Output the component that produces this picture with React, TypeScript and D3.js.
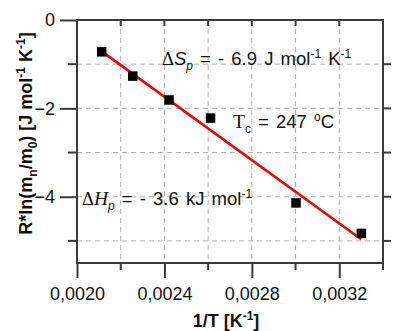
import { useEffect, useRef } from "react"
import * as d3 from "d3"

// measured points
const invT = [0.002113, 0.002255, 0.002421, 0.002611, 0.003002, 0.003301]
const lnRatio = [-0.72, -1.27, -1.81, -2.22, -4.14, -4.83]

// linear fit endpoints
const fitX = [0.002113, 0.0033]
const fitY = [-0.71, -4.96]

const xTicks = [0.002, 0.0024, 0.0028, 0.0032]
const xMinor = [0.0022, 0.0026, 0.003, 0.0034]
const yTicks = [0, -2, -4]
const yMinor = [-1, -3, -5]

const SANS = "'Liberation Sans', Arial, sans-serif"
const SERIF = "'Liberation Serif', 'Times New Roman', serif"
const AXIS = "#3a3a3a"

export default function App() {
  const svgRef = useRef<SVGSVGElement>(null)

  useEffect(() => {
    if (!svgRef.current) return
    const root = d3.select(svgRef.current)
    root.selectAll("*").remove()

    const margin = { top: 20, right: 15, bottom: 68, left: 77 }
    const width = 398 - margin.left - margin.right
    const height = 331 - margin.top - margin.bottom

    const x = d3.scaleLinear().domain([0.002, 0.0034]).range([0, width])
    const y = d3.scaleLinear().domain([-5.5, 0]).range([height, 0])

    const svg = root.append("g").attr("transform", `translate(${margin.left},${margin.top})`)

    // dashed grid
    const grid = svg.append("g").attr("stroke", "#b0b0b0").attr("stroke-width", 1).attr("stroke-dasharray", "5,4")
    grid
      .selectAll("line.v")
      .data([...xTicks, ...xMinor].filter((d) => d > 0.002 && d < 0.0034))
      .enter()
      .append("line")
      .attr("x1", (d) => x(d))
      .attr("x2", (d) => x(d))
      .attr("y1", 0)
      .attr("y2", height)
    grid
      .selectAll("line.h")
      .data([...yTicks, ...yMinor].filter((d) => d < 0))
      .enter()
      .append("line")
      .attr("x1", 0)
      .attr("x2", width)
      .attr("y1", (d) => y(d))
      .attr("y2", (d) => y(d))

    // bottom axis
    const xAxis = svg
      .append("g")
      .attr("transform", `translate(0,${height})`)
      .call(d3.axisBottom(x).tickValues(xTicks).tickSize(15).tickFormat((d) => d3.format(".4f")(d as number).replace(".", ",")))
    xAxis.select(".domain").remove()
    xAxis.selectAll("line").attr("stroke", AXIS).attr("stroke-width", 2)
    xAxis.selectAll("text").attr("fill", "#111").style("font-family", SANS).style("font-size", "18px").attr("dy", "1.05em")
    svg
      .append("g")
      .selectAll("line")
      .data(xMinor)
      .enter()
      .append("line")
      .attr("x1", (d) => x(d))
      .attr("x2", (d) => x(d))
      .attr("y1", height)
      .attr("y2", height + 7)
      .attr("stroke", AXIS)
      .attr("stroke-width", 2)

    // top ticks (inward)
    svg
      .append("g")
      .selectAll("line")
      .data([...xTicks, ...xMinor].filter((d) => d > 0.002 && d < 0.0034))
      .enter()
      .append("line")
      .attr("x1", (d) => x(d))
      .attr("x2", (d) => x(d))
      .attr("y1", 0)
      .attr("y2", 6)
      .attr("stroke", AXIS)
      .attr("stroke-width", 2)

    // left axis
    const yAxis = svg.append("g").call(d3.axisLeft(y).tickValues(yTicks).tickSize(17).tickFormat(d3.format("d")))
    yAxis.select(".domain").remove()
    yAxis.selectAll("line").attr("stroke", AXIS).attr("stroke-width", 2)
    yAxis.selectAll("text").attr("fill", "#111").style("font-family", SANS).style("font-size", "18px").attr("x", -22)
    svg
      .append("g")
      .selectAll("line")
      .data(yMinor)
      .enter()
      .append("line")
      .attr("x1", -9)
      .attr("x2", 0)
      .attr("y1", (d) => y(d))
      .attr("y2", (d) => y(d))
      .attr("stroke", AXIS)
      .attr("stroke-width", 2)

    // right ticks (outward)
    svg
      .append("g")
      .selectAll("line")
      .data([...yTicks, ...yMinor].filter((d) => d < 0))
      .enter()
      .append("line")
      .attr("x1", width)
      .attr("x2", width + 8)
      .attr("y1", (d) => y(d))
      .attr("y2", (d) => y(d))
      .attr("stroke", AXIS)
      .attr("stroke-width", 2)

    // frame
    svg
      .append("rect")
      .attr("width", width)
      .attr("height", height)
      .attr("fill", "none")
      .attr("stroke", AXIS)
      .attr("stroke-width", 2)

    // fit line
    const line = d3
      .line<number>()
      .x((d) => x(d))
      .y((_, i) => y(fitY[i]))
    svg.append("path").attr("d", line(fitX)).attr("fill", "none").attr("stroke", "#ee0000").attr("stroke-width", 2.5)

    // points
    const s = 9.5
    svg
      .selectAll("rect.pt")
      .data(invT)
      .enter()
      .append("rect")
      .attr("x", (d) => x(d) - s / 2)
      .attr("y", (_, i) => y(lnRatio[i]) - s / 2)
      .attr("width", s)
      .attr("height", s)
      .attr("fill", "#000")

    // annotations
    const dS = svg.append("text").attr("x", 85).attr("y", 45).attr("fill", "#111").style("font-family", SANS).style("font-size", "18.5px").style("word-spacing", "2px")
    dS.append("tspan").style("font-family", SERIF).text("Δ")
    dS.append("tspan").style("font-style", "italic").text("S")
    dS.append("tspan").style("font-style", "italic").style("font-size", "12px").attr("dy", 5).text("p")
    dS.append("tspan").attr("dy", -5).text(" = - 6.9 J mol")
    dS.append("tspan").style("font-size", "12px").attr("dy", -7).text("-1")
    dS.append("tspan").attr("dy", 7).text(" K")
    dS.append("tspan").style("font-size", "12px").attr("dy", -7).text("-1")

    const tc = svg.append("text").attr("x", 156).attr("y", 108).attr("fill", "#111").style("font-family", SANS).style("font-size", "18.5px").style("word-spacing", "2px")
    tc.append("tspan").style("font-family", SERIF).style("font-size", "19.5px").text("T")
    tc.append("tspan").style("font-size", "12px").attr("dy", 5).text("c")
    tc.append("tspan").attr("dy", -5).text(" = 247 ")
    tc.append("tspan").style("font-size", "12px").attr("dy", -7).text("o")
    tc.append("tspan").attr("dy", 7).text("C")

    const dH = svg.append("text").attr("x", 5).attr("y", 185).attr("fill", "#111").style("font-family", SANS).style("font-size", "18.5px").style("word-spacing", "2px")
    dH.append("tspan").style("font-family", SERIF).text("Δ")
    dH.append("tspan").style("font-family", SERIF).style("font-style", "italic").style("font-size", "19.5px").text("H")
    dH.append("tspan").style("font-style", "italic").style("font-size", "12px").attr("dy", 5).text("p")
    dH.append("tspan").attr("dy", -5).text(" = - 3.6 kJ mol")
    dH.append("tspan").style("font-size", "12px").attr("dy", -7).text("-1")

    // axis titles
    const xl = svg
      .append("text")
      .attr("x", width / 2 - 4)
      .attr("y", height + 64)
      .attr("text-anchor", "middle")
      .attr("fill", "#111")
      .style("font-family", SANS)
      .style("font-size", "18px")
      .style("font-weight", "bold")
    xl.append("tspan").text("1/T [K")
    xl.append("tspan").style("font-size", "12px").attr("dy", -7).text("-1")
    xl.append("tspan").attr("dy", 7).text("]")

    const yl = svg
      .append("text")
      .attr("transform", `translate(-45,${height / 2 - 8}) rotate(-90)`)
      .attr("text-anchor", "middle")
      .attr("fill", "#111")
      .style("font-family", SANS)
      .style("font-size", "18px")
      .style("font-weight", "bold")
    yl.append("tspan").text("R*ln(m")
    yl.append("tspan").style("font-size", "12px").attr("dy", 5).text("n")
    yl.append("tspan").attr("dy", -5).text("/m")
    yl.append("tspan").style("font-size", "12px").attr("dy", 5).text("0")
    yl.append("tspan").attr("dy", -5).text(") [J mol")
    yl.append("tspan").style("font-size", "12px").attr("dy", -7).text("-1")
    yl.append("tspan").attr("dy", 7).text(" K")
    yl.append("tspan").style("font-size", "12px").attr("dy", -7).text("-1")
    yl.append("tspan").attr("dy", 7).text("]")
  }, [])

  return (
    <svg
      ref={svgRef}
      width={398}
      height={331}
      style={{ position: "absolute", left: 0, top: 0, background: "#fff" }}
    />
  )
}
